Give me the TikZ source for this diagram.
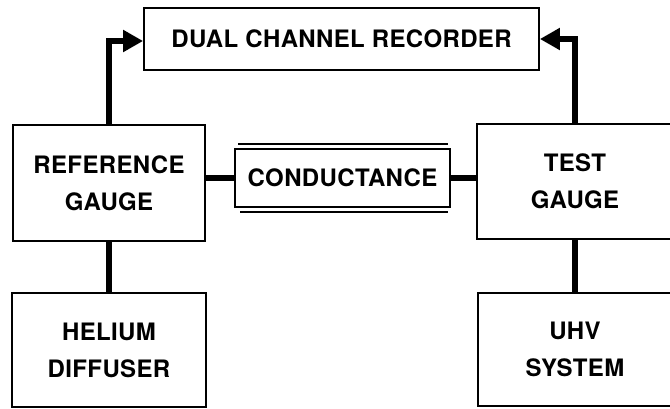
\documentclass[tikz,border=0pt]{standalone}
\usepackage{fontspec}
\setmainfont{TeX Gyre Heros}[LetterSpace=1.5]
\usetikzlibrary{arrows.meta}
\tikzset{
  blk/.style={draw, line width=1.8pt, inner sep=0pt, align=center,
    font=\fontsize{24}{37}\selectfont\bfseries},
  conn/.style={line width=5.5pt},
  arr/.style={line width=5.5pt, -{Triangle[length=20pt,width=21pt]}}
}
\begin{document}
\begin{tikzpicture}[x=1pt,y=-1pt]
\useasboundingbox (0,0) rectangle (670,409);
\node[blk, minimum width=395pt, minimum height=62pt] (rec) at (341.5,39) {DUAL CHANNEL RECORDER};
\node[blk, minimum width=192pt, minimum height=116pt] (ref) at (109,183) {REFERENCE\\GAUGE};
\node[blk, minimum width=196pt, minimum height=115pt] (test) at (575,181.5) {TEST\\GAUGE};
\node[blk, minimum width=194pt, minimum height=114pt] (hel) at (109,350) {HELIUM\\DIFFUSER};
\node[blk, minimum width=194pt, minimum height=113pt] (uhv) at (575,349.5) {UHV\\SYSTEM};
\node[blk, minimum width=215pt, minimum height=58pt] (cond) at (342.5,178) {CONDUCTANCE};
\draw[line width=1.8pt] ([xshift=4pt,yshift=4pt]cond.north west) -- ([xshift=-3pt,yshift=4pt]cond.north east);
\draw[line width=1.8pt] ([xshift=6pt,yshift=-4pt]cond.south west) -- ([xshift=-3pt,yshift=-4pt]cond.south east);
\draw[conn] (ref.east |- cond.west) -- (cond.west);
\draw[conn] (cond.east) -- (test.west |- cond.east);
\draw[conn] (ref.south) -- (hel.north);
\draw[conn] (test.south) -- (uhv.north);
\draw[arr] (ref.north) |- ([yshift=-2pt]rec.west);
\draw[arr] (test.north) |- (rec.east);
\end{tikzpicture}
\end{document}
